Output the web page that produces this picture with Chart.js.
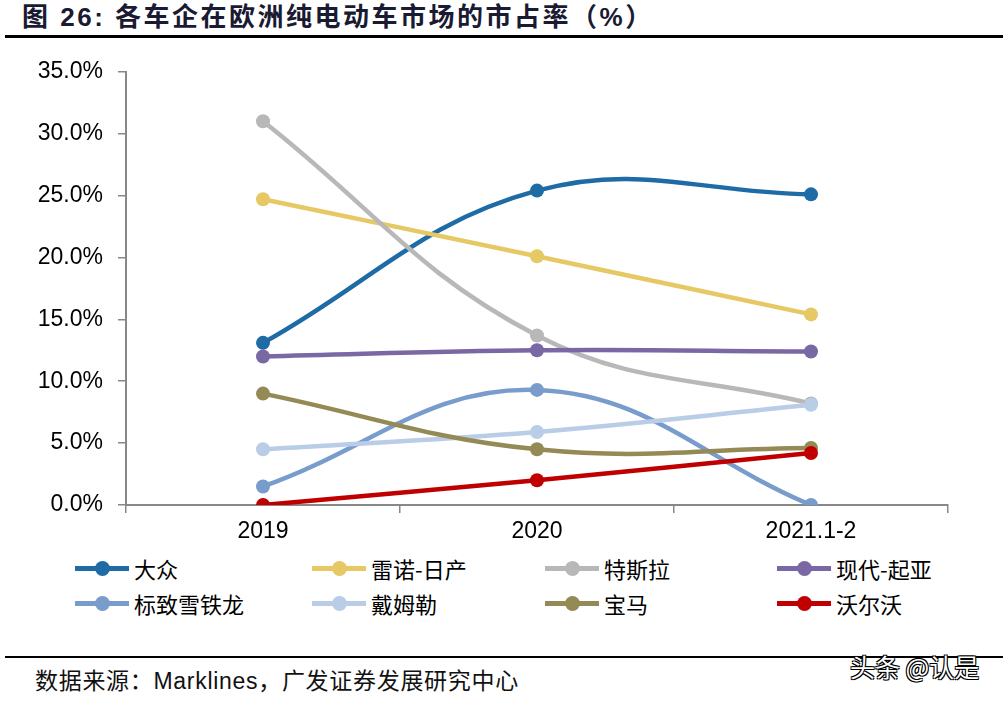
<!DOCTYPE html>
<html>
<head>
<meta charset="utf-8">
<script src="https://cdn.jsdelivr.net/npm/chart.js@4.4.0/dist/chart.umd.min.js"></script>
<style>
  body { margin:0; width:1003px; height:701px; background:#fff; position:relative; overflow:hidden;
         font-family:"Liberation Sans","Noto Sans CJK SC",sans-serif; }
  #title { position:absolute; left:22px; top:-4px; font-size:26px; font-weight:bold; color:#1a1a33;
           letter-spacing:2.5px; font-family:"Liberation Sans","Noto Sans CJK SC",sans-serif; }
  #topline { position:absolute; left:5px; top:35px; width:998px; height:3px; background:#000; }
  #chartbox { position:absolute; left:0; top:43px; }
  .lg { position:absolute; height:30px; font-size:22px; font-family:"Noto Sans CJK SC",sans-serif; color:#000; }
  .lg .ln { position:absolute; left:0; top:13px; width:54px; height:5px; }
  .lg .dt { position:absolute; left:20px; top:8px; width:15px; height:15px; border-radius:50%; }
  .lg .tx { position:absolute; left:59px; top:-1px; white-space:nowrap; }
  #botline { position:absolute; left:5px; top:656px; width:998px; height:2px; background:#000; }
  #source { position:absolute; left:35px; top:662px; font-size:23px; color:#111; letter-spacing:0.7px;
            font-family:"Liberation Sans","Noto Sans CJK SC",sans-serif; }
  #mark { position:absolute; left:850px; top:648px; font-size:25px; color:#fff;
          font-family:"Noto Sans CJK SC",sans-serif;
          text-shadow:1px 1px 0 #000,-1px 1px 0 #000,1px -1px 0 #000,-1px -1px 0 #000; }
</style>
</head>
<body>
<div id="title">图 26: 各车企在欧洲纯电动车市场的市占率（%）</div>
<div id="topline"></div>
<div id="chartbox"><canvas id="myChart" width="1003" height="507"></canvas></div>
<div id="legend"></div>
<div id="botline"></div>
<div id="source">数据来源：Marklines，广发证券发展研究中心</div>
<div id="mark">头条 @认是</div>
<script>
// categories and series (market share, %)
var years = ['2019', '2020', '2021.1-2'];
var brands = ['大众', '雷诺-日产', '特斯拉', '现代-起亚', '标致雪铁龙', '戴姆勒', '宝马', '沃尔沃'];
var vw      = [13.1, 25.4, 25.1];
var renault = [24.7, 20.1, 15.4];
var tesla   = [31.0, 13.7, 8.2];
var hyundai = [12.0, 12.5, 12.4];
var psa     = [1.5, 9.3, 0.0];
var daimler = [4.5, 5.9, 8.1];
var bmw     = [9.0, 4.5, 4.6];
var volvo   = [0.0, 2.0, 4.2];
var colors = ['#1F6BA5', '#E6C865', '#B8B8B8', '#7A68A4', '#789CCC', '#B9CDE6', '#948A55', '#C00000'];

var series = [vw, renault, tesla, hyundai, psa, daimler, bmw, volvo];

var datasets = series.map(function (d, i) {
  return {
    label: brands[i],
    data: d,
    borderColor: colors[i],
    backgroundColor: colors[i],
    borderWidth: 4.5,
    pointRadius: 7,
    pointHoverRadius: 7,
    pointBorderWidth: 0,
    tension: 0.4,
    order: series.length - i
  };
});

var ctx = document.getElementById('myChart').getContext('2d');
var chart = new Chart(ctx, {
  type: 'line',
  data: { labels: years, datasets: datasets },
  options: {
    responsive: false,
    animation: false,
    devicePixelRatio: 1,
    layout: { padding: { top: 13, right: 55, left: 0, bottom: 0 } },
    plugins: { legend: { display: false }, tooltip: { enabled: false } },
    scales: {
      x: {
        offset: true,
        grid: { offset: true, drawOnChartArea: false, drawTicks: true, tickLength: 8, color: '#888', lineWidth: 1.5 },
        border: { color: '#888', width: 2 },
        ticks: { color: '#000', padding: 5, font: { size: 23, family: 'Liberation Sans' } },
        afterFit: function (s) { s.height = 45; }
      },
      y: {
        min: 0, max: 35,
        grid: { drawOnChartArea: false, drawTicks: true, tickLength: 8, color: '#888', lineWidth: 1.5 },
        border: { color: '#888', width: 2 },
        ticks: {
          stepSize: 5, color: '#000', padding: 15,
          font: { size: 23, family: 'Liberation Sans' },
          callback: function (v) { return v.toFixed(1) + '%'; }
        },
        afterFit: function (s) { s.width = 126; }
      }
    }
  }
});

// legend: line with dot, 4 columns x 2 rows
var colX = [75, 312, 545, 777];
var rowY = [553, 588];
var lg = document.getElementById('legend');
brands.forEach(function (b, i) {
  var el = document.createElement('div');
  el.className = 'lg';
  el.style.left = colX[i % 4] + 'px';
  el.style.top = rowY[Math.floor(i / 4)] + 'px';
  el.innerHTML = '<div class="ln" style="background:' + colors[i] + '"></div>' +
                 '<div class="dt" style="background:' + colors[i] + '"></div>' +
                 '<div class="tx">' + b + '</div>';
  lg.appendChild(el);
});
</script>
</body>
</html>
